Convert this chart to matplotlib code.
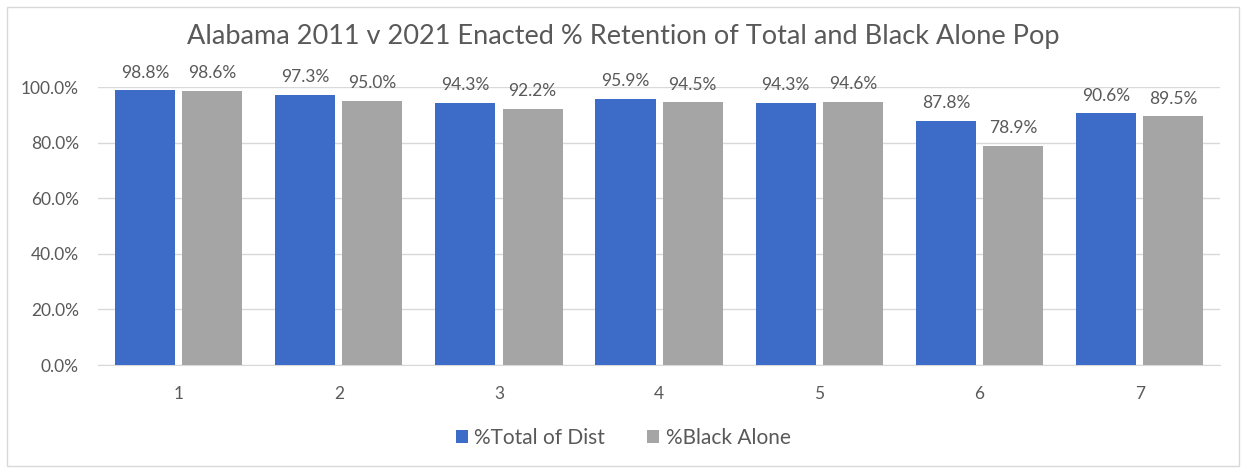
import matplotlib.pyplot as plt
import numpy as np
from matplotlib.patches import Rectangle

# data
districts = ["1", "2", "3", "4", "5", "6", "7"]
total_of_dist = [98.8, 97.3, 94.3, 95.9, 94.3, 87.8, 90.6]
black_alone = [98.6, 95.0, 92.2, 94.5, 94.6, 78.9, 89.5]
y_ticks = [0, 20, 40, 60, 80, 100]

BLUE = "#3d6bc8"
GRAY = "#a5a5a5"
TEXT = "#595959"

plt.rcParams["font.family"] = ["Lato", "DejaVu Sans"]

fig = plt.figure(figsize=(12.46, 4.71), dpi=100)
ax = fig.add_axes([0.079, 0.225, 0.900, 0.590])

x = np.arange(1, len(districts) + 1)
w = 0.375
off = 0.21
b1 = ax.bar(x - off, total_of_dist, w, color=BLUE, label="%Total of Dist", zorder=3)
b2 = ax.bar(x + off, black_alone, w, color=GRAY, label="%Black Alone", zorder=3)

for bars in (b1, b2):
    for rect in bars:
        h = rect.get_height()
        ax.annotate(f"{h:.1f}%", (rect.get_x() + rect.get_width() / 2, h),
                    xytext=(0, 7), textcoords="offset points",
                    ha="center", va="bottom", fontsize=12.5, color=TEXT)

ax.set_xlim(0.5, 7.5)
ax.set_ylim(0, 100)
ax.set_yticks(y_ticks)
ax.set_yticklabels([f"{v:.1f}%" for v in y_ticks])
ax.set_xticks(x)
ax.set_xticklabels(districts)
ax.tick_params(axis="both", length=0, labelsize=12.5, colors=TEXT)
ax.tick_params(axis="x", pad=15)
ax.tick_params(axis="y", pad=14)
ax.grid(axis="y", color="#d9d9d9", linewidth=1, zorder=0)
for side in ("top", "right", "left"):
    ax.spines[side].set_visible(False)
ax.spines["bottom"].set_color("#d9d9d9")

fig.suptitle("Alabama 2011 v 2021 Enacted % Retention of Total and Black Alone Pop",
             y=0.95, fontsize=19.5, color=TEXT)

fig.legend(loc="center", bbox_to_anchor=(0.5, 0.07), ncol=2, frameon=False,
           fontsize=15, handlelength=0.6, handleheight=0.6, columnspacing=2.0,
           handletextpad=0.3, labelcolor=TEXT)

# light chart-area border
fig.patches.append(Rectangle((0.006, 0.01), 0.988, 0.975, transform=fig.transFigure,
                             fill=False, edgecolor="#d9d9d9", linewidth=1))

fig.savefig("out.png", dpi=100)
